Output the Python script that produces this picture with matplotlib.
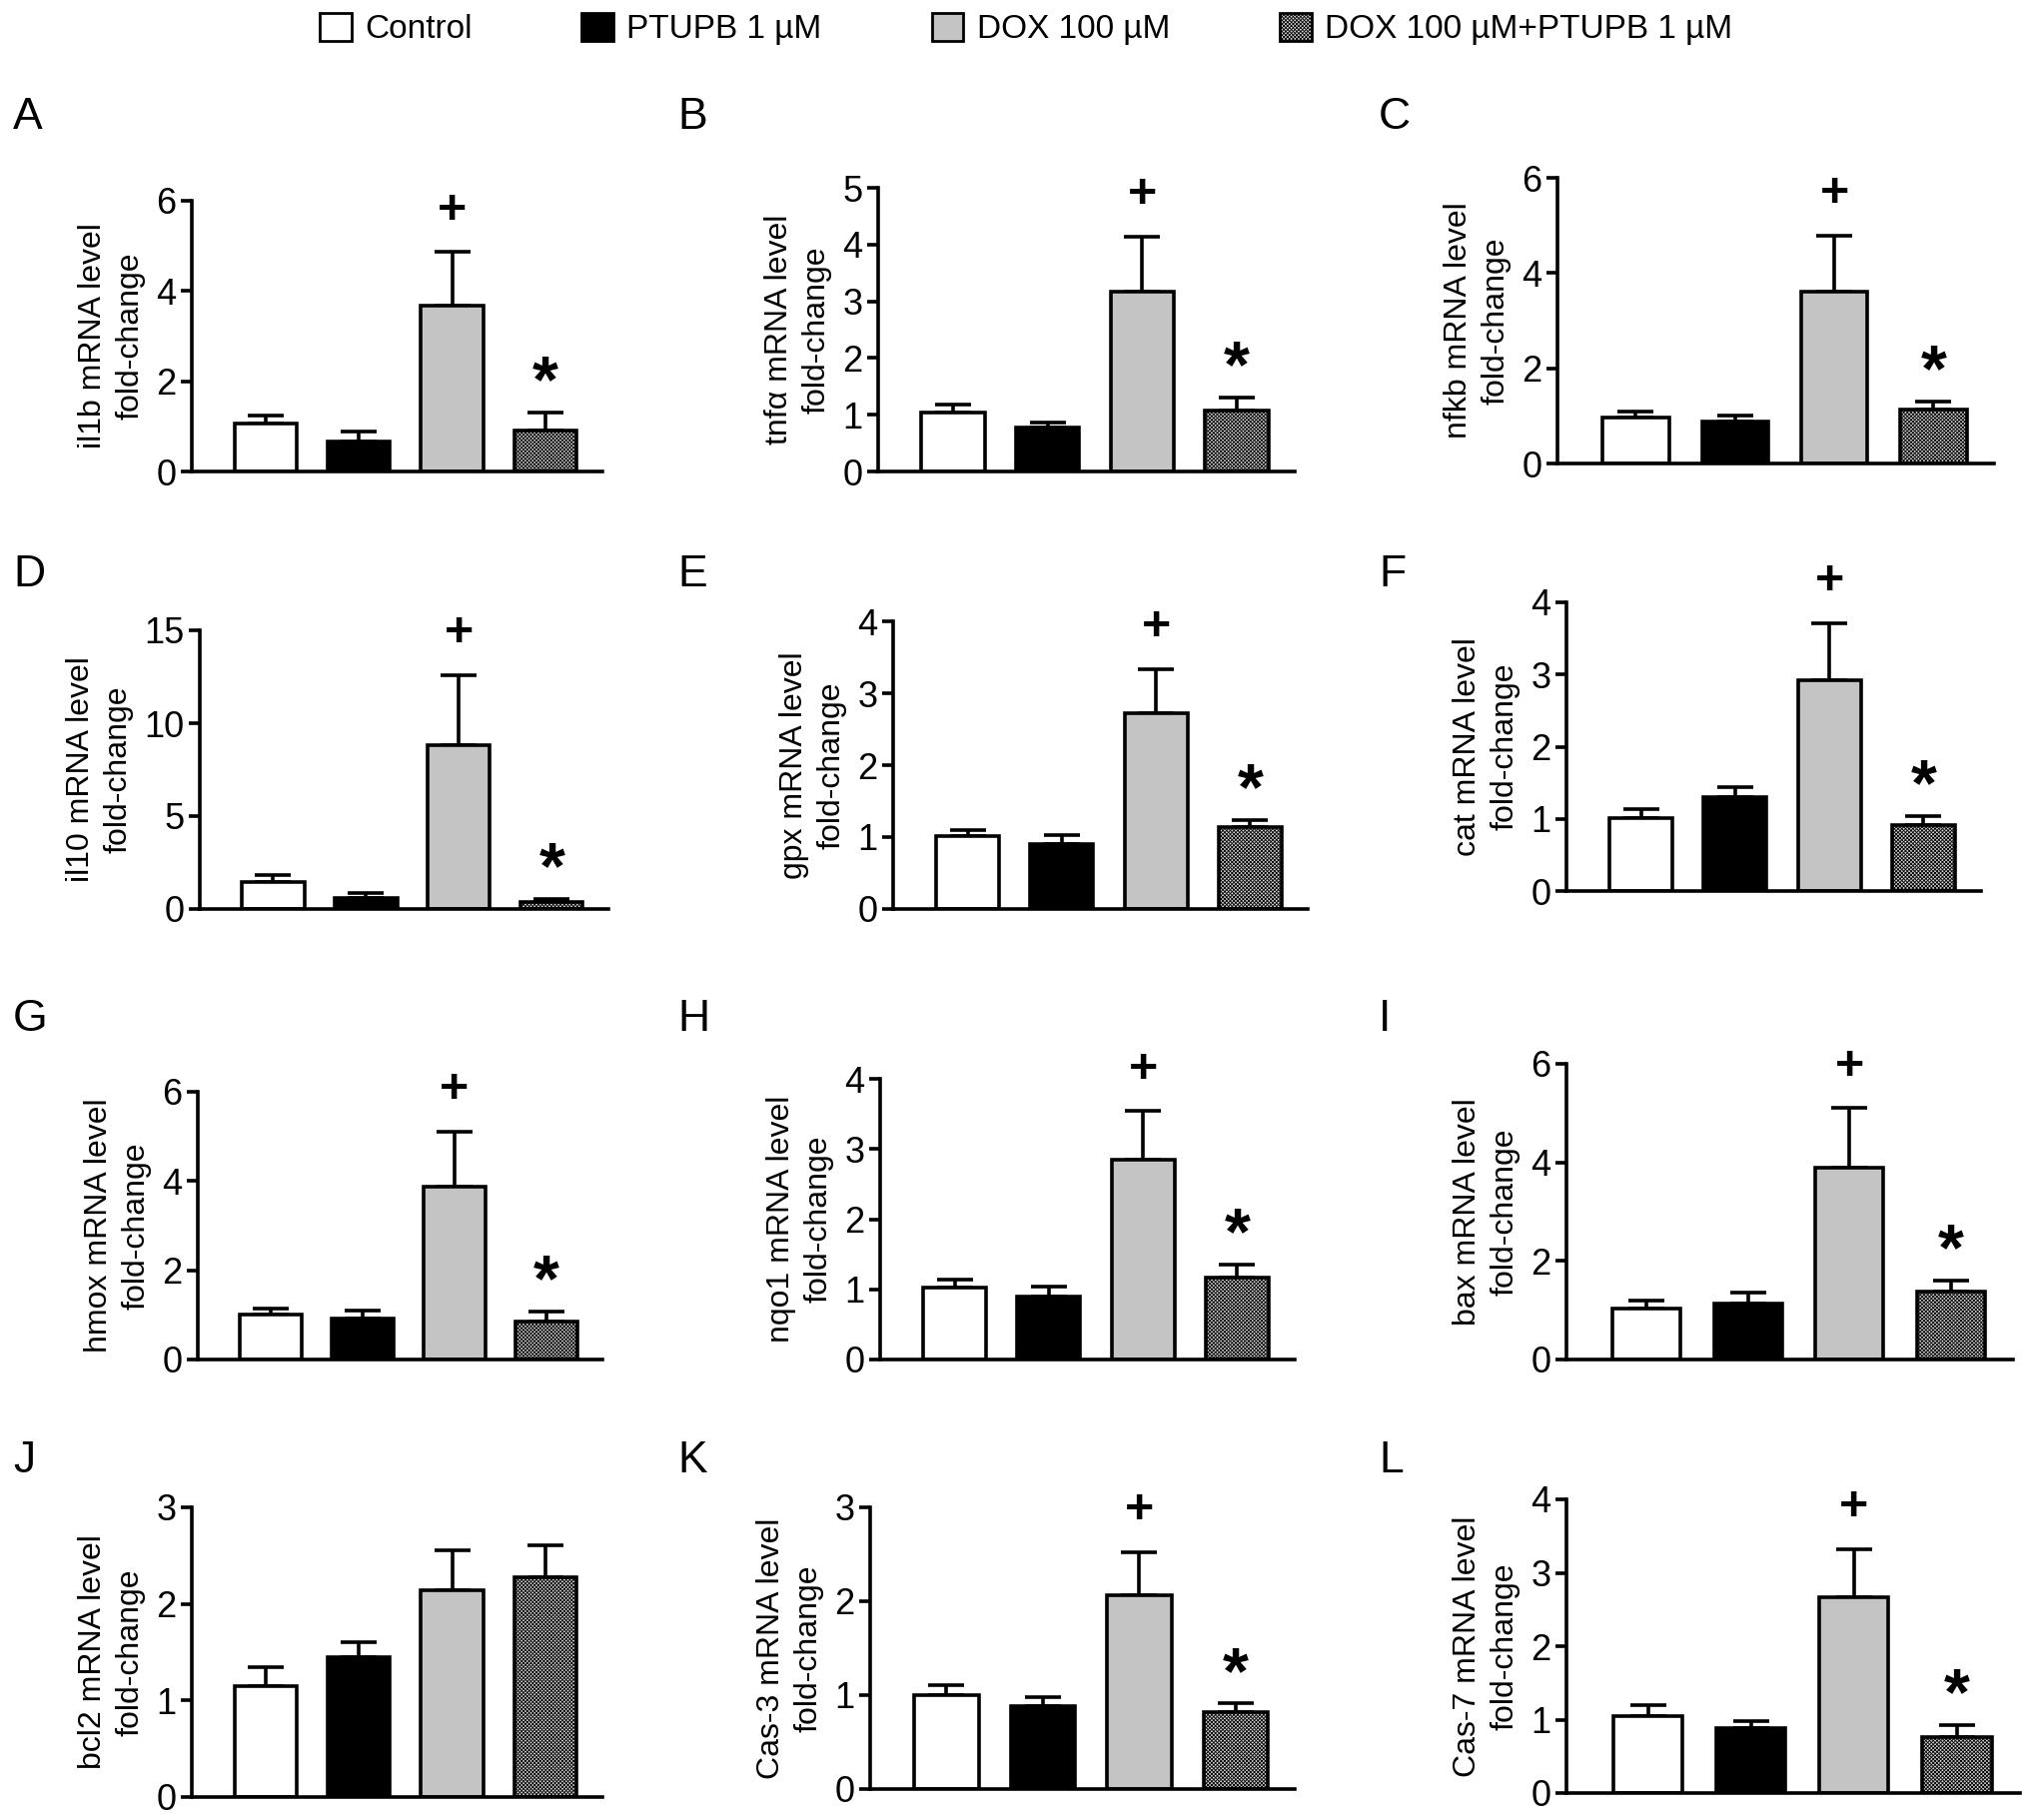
import matplotlib
matplotlib.use('Agg')
import matplotlib.pyplot as plt
from matplotlib.patches import Patch

plt.rcParams['font.family'] = ['Liberation Sans', 'DejaVu Sans']
plt.rcParams['hatch.linewidth'] = 0.6
plt.rcParams['hatch.color'] = 'black'

# data (mean, upper SEM)
genes = ['il1b', 'tnf\u03b1', 'nfkb', 'il10', 'gpx', 'cat',
         'hmox', 'nqo1', 'bax', 'bcl2', 'Cas-3', 'Cas-7']
letters = ['A', 'B', 'C', 'D', 'E', 'F', 'G', 'H', 'I', 'J', 'K', 'L']
groups = ['Control', 'PTUPB 1 \u00b5M', 'DOX 100 \u00b5M', 'DOX 100 \u00b5M+PTUPB 1 \u00b5M']

control_mean = [1.06, 1.03, 0.97, 1.43, 1.01, 1.01, 1.01, 1.03, 1.04, 1.15, 1.00, 1.05]
control_err = [0.17, 0.15, 0.13, 0.41, 0.09, 0.12, 0.14, 0.11, 0.15, 0.20, 0.11, 0.15]
ptupb_mean = [0.66, 0.77, 0.88, 0.60, 0.90, 1.30, 0.92, 0.90, 1.14, 1.45, 0.88, 0.88]
ptupb_err = [0.22, 0.10, 0.12, 0.26, 0.13, 0.14, 0.17, 0.14, 0.21, 0.15, 0.10, 0.10]
dox_mean = [3.67, 3.17, 3.60, 8.84, 2.72, 2.92, 3.88, 2.84, 3.90, 2.14, 2.06, 2.67]
dox_err = [1.19, 0.97, 1.19, 3.76, 0.62, 0.79, 1.23, 0.70, 1.20, 0.42, 0.46, 0.65]
combo_mean = [0.90, 1.08, 1.13, 0.36, 1.14, 0.91, 0.85, 1.17, 1.37, 2.28, 0.82, 0.76]
combo_err = [0.40, 0.23, 0.17, 0.19, 0.10, 0.13, 0.22, 0.18, 0.23, 0.33, 0.09, 0.16]

y_max = [6, 5, 6, 15, 4, 4, 6, 4, 6, 3, 3, 4]
y_step = [2, 1, 2, 5, 1, 1, 2, 1, 2, 1, 1, 1]
marked = [True] * 9 + [False] + [True] * 2

face = ['white', 'black', '#c4c4c4', '#d4d4d4']
hatch = [None, None, None, 'x' * 9]

# axes boxes in pixels: x0, x1, y_top, y_bottom
W, H = 2032, 1822
boxes = [(192, 603, 201, 472), (879, 1296, 188, 472), (1559, 1996, 178, 464),
         (200, 609, 631, 910), (894, 1309, 622, 910), (1568, 1983, 603, 892),
         (198, 603, 1093, 1361), (881, 1296, 1080, 1361), (1568, 2015, 1065, 1361),
         (192, 603, 1509, 1799), (871, 1296, 1509, 1791), (1568, 2022, 1501, 1795)]
letter_x = [13, 678, 1380]
letter_y = [97, 555, 1000, 1442]

fig = plt.figure(figsize=(W / 100, H / 100), dpi=100)
lw = 2.6

for i in range(12):
    x0, x1, yt, yb = boxes[i]
    ax = fig.add_axes([x0 / W, 1 - yb / H, (x1 - x0) / W, (yb - yt) / H])
    means = [control_mean[i], ptupb_mean[i], dox_mean[i], combo_mean[i]]
    errs = [control_err[i], ptupb_err[i], dox_err[i], combo_err[i]]
    xs = list(range(4))
    ax.errorbar(xs, means, yerr=[[0] * 4, errs], fmt='none', ecolor='black',
                elinewidth=lw, capsize=13, capthick=lw, zorder=1, clip_on=False)
    for j in xs:
        ax.bar(j, means[j], width=0.67, color=face[j], edgecolor='black',
               linewidth=lw, hatch=hatch[j], zorder=2)
    if marked[i]:
        ax.annotate('+', (2, means[2] + errs[2]), xytext=(0, 30), textcoords='offset points',
                    ha='center', va='center', fontsize=36, fontweight='bold')
        ax.annotate('*', (3, means[3] + errs[3]), xytext=(0, 20), textcoords='offset points',
                    ha='center', va='center', fontsize=48, fontweight='bold')
    ax.set_xlim(-0.79, 3.61)
    ax.set_ylim(0, y_max[i])
    ax.set_yticks(list(range(0, y_max[i] + 1, y_step[i])))
    ax.set_xticks([])
    for s in ['top', 'right']:
        ax.spines[s].set_visible(False)
    for s in ['left', 'bottom']:
        ax.spines[s].set_linewidth(lw)
    ax.tick_params(axis='y', direction='out', length=8, width=lw, labelsize=26, pad=3)
    ax.set_ylabel(genes[i] + ' mRNA level\nfold-change', fontsize=23, labelpad=8,
                  linespacing=1.3)
    fig.text(letter_x[i % 3] / W, 1 - letter_y[i // 3] / H, letters[i],
             fontsize=32, va='top', ha='left')

handles = [Patch(facecolor=face[k], edgecolor='black', linewidth=2, hatch=hatch[k])
           for k in range(4)]
fig.legend(handles, groups, loc='center', bbox_to_anchor=(0.5054, 1 - 29 / H), ncol=4,
           frameon=False, fontsize=24, handlelength=0.95, handleheight=0.95,
           handletextpad=0.4, columnspacing=3.3)

fig.savefig('out.png', dpi=100)
